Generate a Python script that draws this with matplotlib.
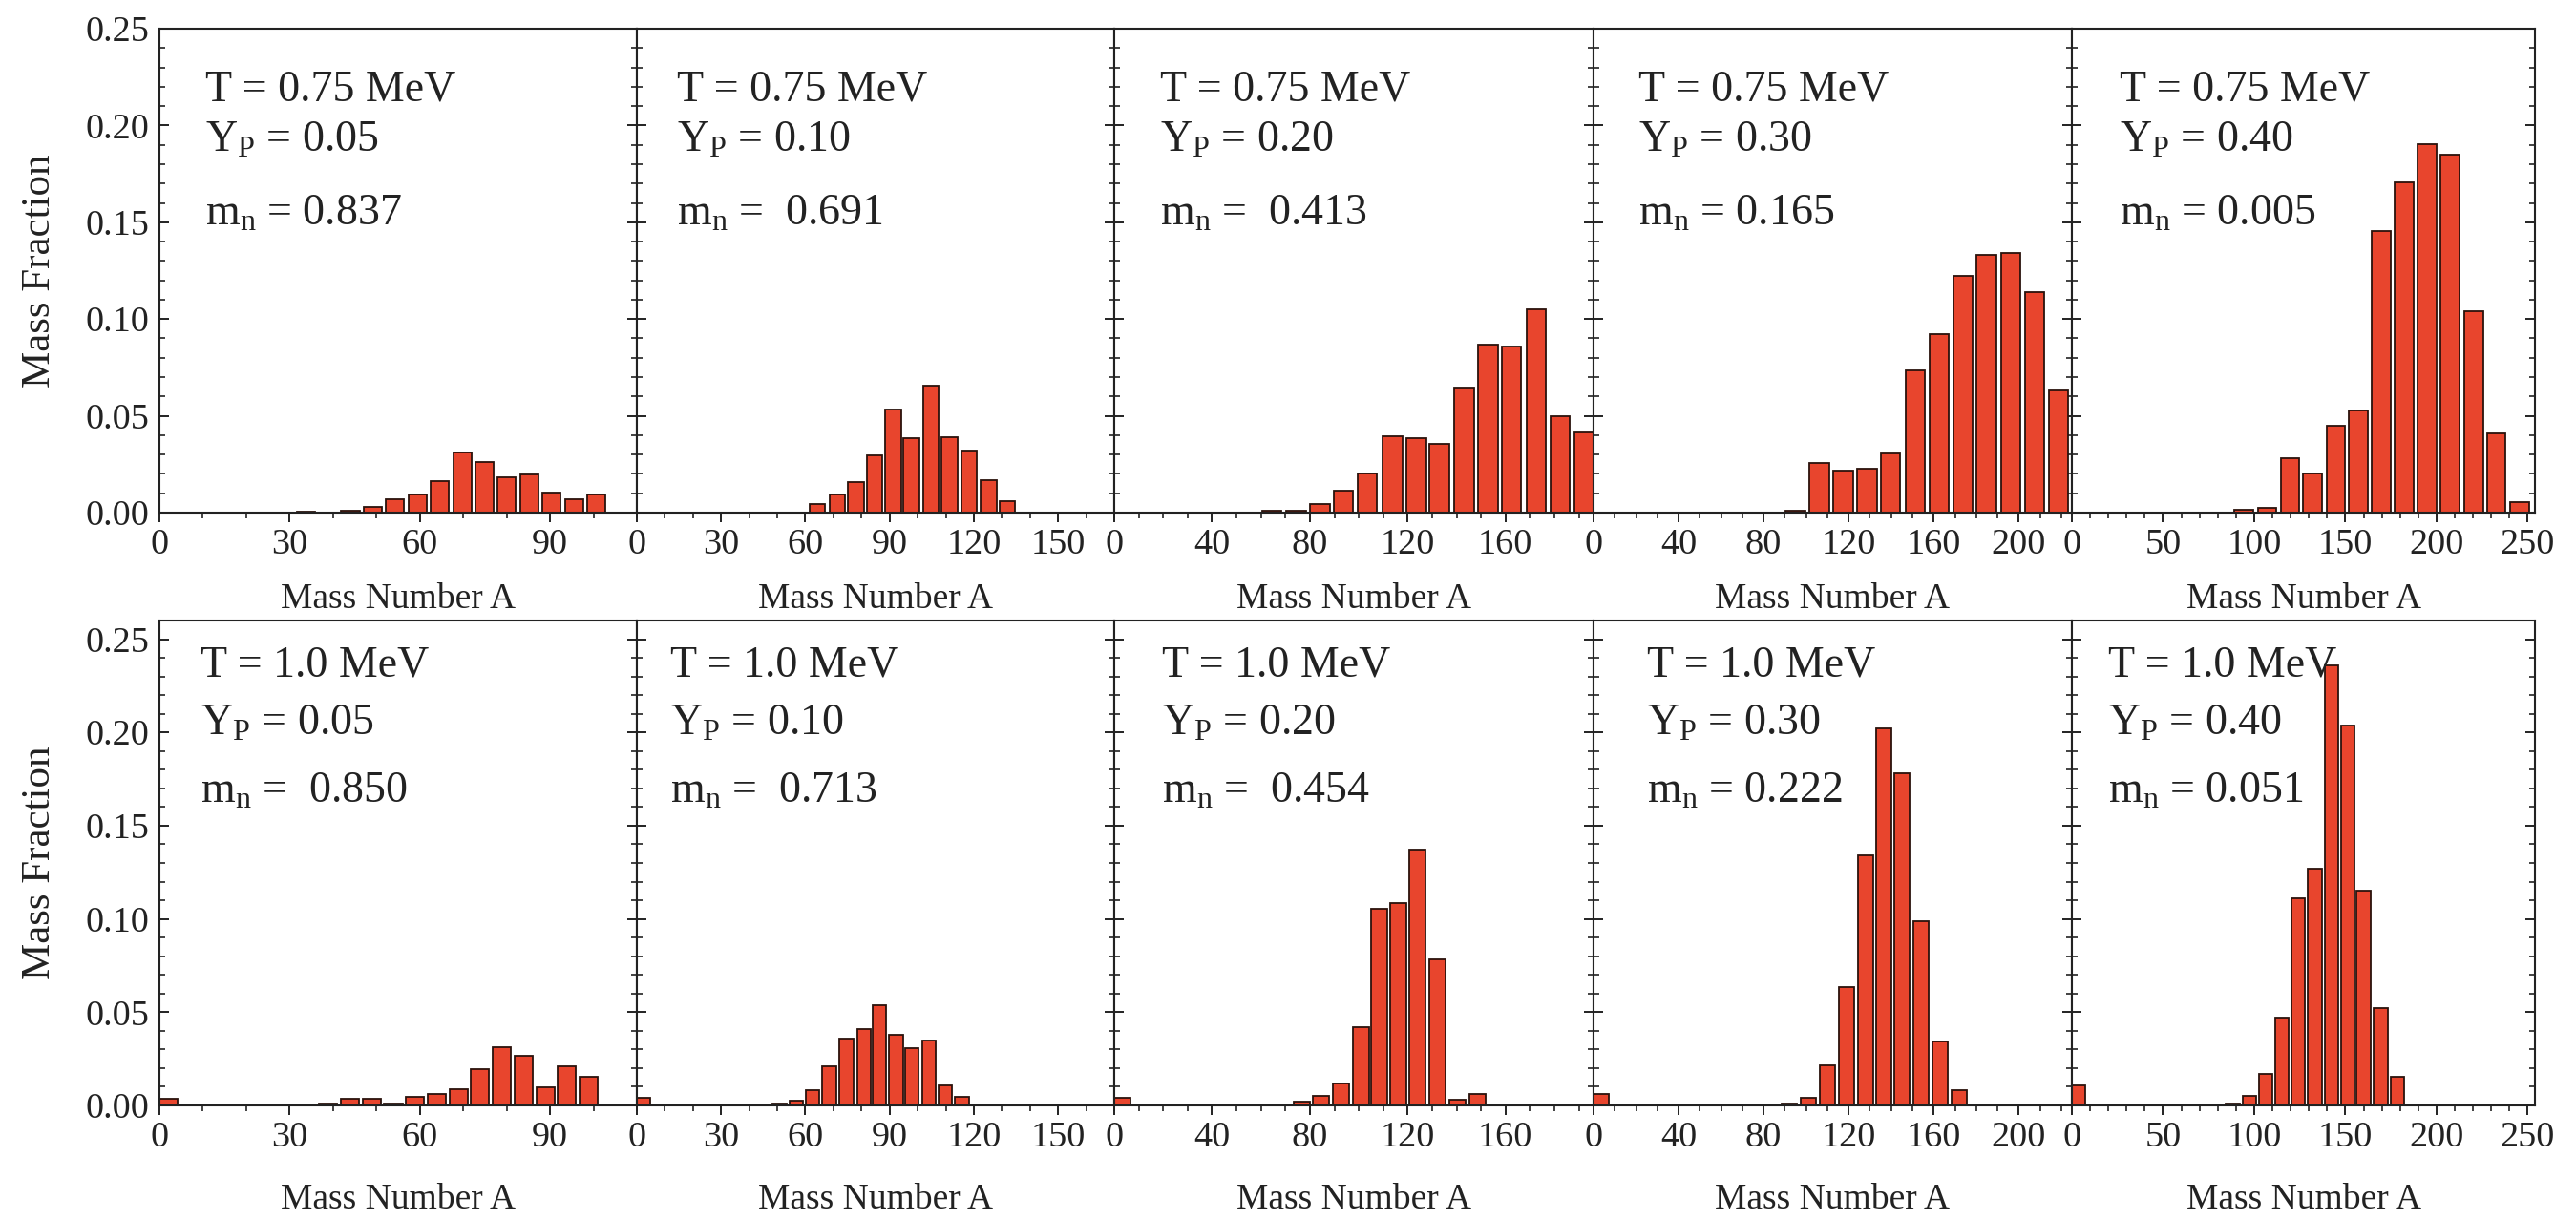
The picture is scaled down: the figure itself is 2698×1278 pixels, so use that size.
import matplotlib
matplotlib.use("Agg")
import matplotlib.pyplot as plt
from matplotlib.ticker import MultipleLocator, FixedLocator

plt.rcParams['font.family'] = ['Liberation Serif', 'DejaVu Serif']
plt.rcParams['mathtext.fontset'] = 'custom'
plt.rcParams['mathtext.rm'] = 'Liberation Serif'

# ---------------------------------------------------------------
# data: mass number A (bin centre) and mass fraction
# ---------------------------------------------------------------
temps = ["0.75", "1.0"]
yp_values = ["0.05", "0.10", "0.20", "0.30", "0.40"]
mn_top = ["0.837", " 0.691", " 0.413", "0.165", "0.005"]
mn_bottom = [" 0.850", " 0.713", " 0.454", "0.222", "0.051"]

# T = 0.75 MeV
a_075_005 = [33.7, 44.0, 49.15, 54.3, 59.45, 64.6, 69.75, 74.9, 80.05, 85.2, 90.35, 95.5, 100.65]
mf_075_005 = [0.0005, 0.001, 0.003, 0.007, 0.0093, 0.0163, 0.031, 0.0263, 0.0184, 0.0198, 0.0105, 0.007, 0.0093]

a_075_010 = [64.2, 71.4, 78.1, 84.7, 91.3, 97.8, 104.8, 111.3, 118.4, 125.3, 131.9]
mf_075_010 = [0.0044, 0.0096, 0.0158, 0.0298, 0.0535, 0.0386, 0.0654, 0.039, 0.032, 0.017, 0.0058]

a_075_020 = [64.4, 74.3, 84.1, 93.8, 103.5, 113.8, 123.5, 132.9, 143.0, 152.8, 162.4, 172.5, 182.3, 192.2]
mf_075_020 = [0.001, 0.001, 0.0044, 0.0114, 0.0202, 0.0395, 0.0386, 0.0356, 0.0646, 0.0868, 0.0856, 0.105, 0.05, 0.0412]

a_075_030 = [95.0, 106.3, 117.4, 128.6, 139.7, 151.3, 162.6, 173.7, 184.8, 196.2, 207.4, 218.6]
mf_075_030 = [0.001, 0.0254, 0.0216, 0.0228, 0.0307, 0.0737, 0.092, 0.1223, 0.1333, 0.1339, 0.1137, 0.0632]

a_075_040 = [94.4, 107.1, 119.7, 131.9, 144.8, 157.3, 169.9, 182.2, 195.0, 207.3, 220.4, 232.8, 245.5]
mf_075_040 = [0.0016, 0.0023, 0.028, 0.0202, 0.0447, 0.0526, 0.1456, 0.1707, 0.1904, 0.185, 0.1039, 0.0409, 0.0053]

# T = 1.0 MeV
a_100_005 = [2.1, 38.9, 43.9, 48.9, 53.9, 58.9, 63.9, 68.9, 73.9, 78.9, 83.9, 88.9, 93.9, 98.9]
mf_100_005 = [0.0034, 0.0012, 0.0034, 0.0034, 0.001, 0.0048, 0.006, 0.0085, 0.0195, 0.031, 0.0265, 0.0095, 0.021, 0.0155]

a_100_010 = [2.4, 29.6, 44.9, 50.8, 56.7, 62.6, 68.5, 74.6, 80.9, 86.4, 92.3, 98.0, 104.0, 109.9, 115.8]
mf_100_010 = [0.004, 0.0005, 0.0005, 0.001, 0.0025, 0.008, 0.021, 0.0356, 0.0407, 0.0535, 0.0378, 0.0305, 0.0347, 0.011, 0.0045]

a_100_020 = [3.3, 76.6, 84.6, 92.6, 101.0, 108.3, 116.2, 124.0, 132.2, 140.4, 148.4]
mf_100_020 = [0.004, 0.002, 0.005, 0.012, 0.042, 0.1054, 0.1083, 0.137, 0.0785, 0.003, 0.006]

a_100_030 = [3.6, 92.0, 101.0, 110.0, 119.0, 128.0, 136.5, 145.0, 154.0, 163.0, 172.0]
mf_100_030 = [0.006, 0.001, 0.004, 0.0213, 0.0634, 0.134, 0.2023, 0.178, 0.0988, 0.0343, 0.008]

a_100_040 = [3.7, 88.3, 97.3, 106.3, 115.3, 124.0, 133.3, 142.3, 151.4, 160.0, 169.5, 178.5]
mf_100_040 = [0.011, 0.001, 0.005, 0.017, 0.047, 0.111, 0.127, 0.236, 0.2035, 0.115, 0.052, 0.0155]

panels = [
    [(a_075_005, mf_075_005), (a_075_010, mf_075_010), (a_075_020, mf_075_020),
     (a_075_030, mf_075_030), (a_075_040, mf_075_040)],
    [(a_100_005, mf_100_005), (a_100_010, mf_100_010), (a_100_020, mf_100_020),
     (a_100_030, mf_100_030), (a_100_040, mf_100_040)],
]

# bar widths (bin spacing differs per panel)
bar_width = [[4.2, 5.6, 8.0, 9.2, 10.4],
             [4.2, 4.9, 6.6, 7.3, 7.5]]

x_max = [110, 170, 196, 225, 254]
x_major = [30, 30, 40, 40, 50]
x_last_label = [90, 150, 160, 200, 250]
y_max = [0.25, 0.26]

# ---------------------------------------------------------------
# layout (pixels of the 2698 x 1278 figure)
# ---------------------------------------------------------------
W, H = 2698, 1278
col_left = [167, 667, 1167, 1669, 2170]
col_right = [667, 1167, 1669, 2170, 2655]
row_top = [30, 650]
row_bottom = [537, 1158]

text_x = [[0.096, 0.084, 0.096, 0.094, 0.103],
          [0.086, 0.070, 0.100, 0.112, 0.078]]
text_y = [[0.851, 0.746, 0.594],
          [0.885, 0.765, 0.625]]

bar_face = '#E8452D'
bar_edge = '#2a120c'
ink = '#222222'

fig = plt.figure(figsize=(W / 100, H / 100), dpi=100)

for r in range(2):
    for c in range(5):
        left = col_left[c] / W
        width = (col_right[c] - col_left[c]) / W
        bottom = 1 - row_bottom[r] / H
        height = (row_bottom[r] - row_top[r]) / H
        ax = fig.add_axes([left, bottom, width, height])

        a_vals, mf_vals = panels[r][c]
        ax.bar(a_vals, mf_vals, width=bar_width[r][c], color=bar_face,
               edgecolor=bar_edge, linewidth=1.3, zorder=2)

        ax.set_xlim(0, x_max[c])
        ax.set_ylim(0, y_max[r])

        ax.xaxis.set_major_locator(FixedLocator(list(range(0, x_last_label[c] + 1, x_major[c]))))
        ax.xaxis.set_minor_locator(MultipleLocator(10))
        ax.yaxis.set_major_locator(MultipleLocator(0.05))
        ax.yaxis.set_minor_locator(MultipleLocator(0.01))

        ax.tick_params(axis='x', which='both', direction='out', bottom=True, top=False,
                       labelsize=27.5, pad=5, colors=ink)
        ax.tick_params(axis='x', which='major', length=7, width=1.4)
        ax.tick_params(axis='x', which='minor', length=4, width=1.2)
        ax.tick_params(axis='y', which='both', direction='in', left=True, right=True,
                       labelsize=27.5, pad=8, colors=ink)
        ax.tick_params(axis='y', which='major', length=7, width=1.4)
        ax.tick_params(axis='y', which='minor', length=4.5, width=1.2)

        if c == 0:
            ax.set_yticklabels(['%.2f' % v for v in ax.get_yticks()])
        else:
            ax.tick_params(axis='y', labelleft=False)

        for s in ax.spines.values():
            s.set_linewidth(1.5)
            s.set_color(ink)

        ax.set_xlabel('Mass Number A', fontsize=27, color=ink,
                      labelpad=16 if r == 0 else 22)

        mn = mn_top[c] if r == 0 else mn_bottom[c]
        lines = ['T = %s MeV' % temps[r],
                 r'$\mathregular{Y_P}$ = ' + yp_values[c],
                 r'$\mathregular{m_n}$ = ' + mn]
        for line, ty in zip(lines, text_y[r]):
            ax.text(text_x[r][c], ty, line, transform=ax.transAxes,
                    fontsize=33, color=ink, va='baseline', ha='left', zorder=3)

for r in range(2):
    yc = 1 - (row_top[r] + row_bottom[r]) / 2 / H
    fig.text(42 / W, yc, 'Mass Fraction', rotation=90, va='center', ha='center',
             fontsize=31, color=ink)

fig.savefig('out.png', dpi=100)
